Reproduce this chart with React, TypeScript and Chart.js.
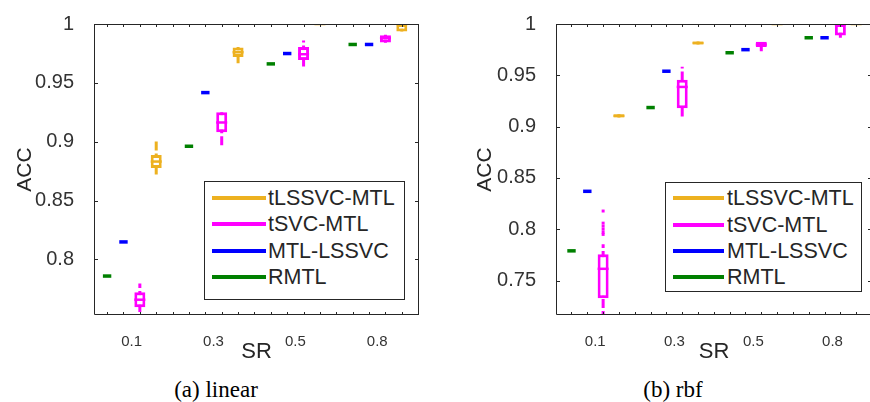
import React, { useEffect, useRef } from 'react';
import { Chart, registerables } from 'chart.js';

Chart.register(...registerables);

// ---------- data ----------
const METHODS = ['tLSSVC-MTL', 'tSVC-MTL', 'MTL-LSSVC', 'RMTL'];
const COLORS = ['#EDB120', '#FF00FF', '#0000FF', '#008000'];
const SR_LABELS = ['0.1', '0.3', '0.5', '0.8'];
const GROUP_STEP = 5; // slots per SR group (4 boxes + gap)

// (a) linear
const LIN_Y_TICKS = [0.8, 0.85, 0.9, 0.95, 1];
const LIN_RMTL = [0.7858, 0.8961, 0.9661, 0.9826];
const LIN_MTL_LSSVC = [0.8148, 0.9417, 0.9749, 0.9826];
const LIN_TSVC_Q1 = [0.7593, 0.908, 0.9693, 0.9842];
const LIN_TSVC_MED = [0.7657, 0.9163, 0.9743, 0.988];
const LIN_TSVC_Q3 = [0.772, 0.9251, 0.9804, 0.9905];
const LIN_TSVC_LO = [0.745, 0.897, 0.9638, 0.984];
const LIN_TSVC_HI = [0.7794, 0.9274, 0.9859, 0.9908];
const LIN_TLSSVC_Q1 = [0.8776, 0.972, 1.0, 0.9937];
const LIN_TLSSVC_MED = [0.8831, 0.976, 1.0, 1.0];
const LIN_TLSSVC_Q3 = [0.8886, 0.98, 1.0, 1.0];
const LIN_TLSSVC_LO = [0.872, 0.9666, 1.0, 0.9937];
const LIN_TLSSVC_HI = [0.9025, 0.9805, 1.0, 1.0];

// (b) rbf
const RBF_Y_TICKS = [0.75, 0.8, 0.85, 0.9, 0.95, 1];
const RBF_RMTL = [0.779, 0.9186, 0.972, 0.9866];
const RBF_MTL_LSSVC = [0.837, 0.954, 0.975, 0.9866];
const RBF_TSVC_Q1 = [0.7327, 0.9179, 0.9776, 0.9888];
const RBF_TSVC_MED = [0.7615, 0.9387, 0.98, 0.9995];
const RBF_TSVC_Q3 = [0.7758, 0.9457, 0.9827, 1.0];
const RBF_TSVC_LO = [0.7, 0.91, 0.9735, 0.9866];
const RBF_TSVC_HI = [0.7854, 0.9584, 0.9827, 1.0];
const RBF_TSVC_OUT_01 = [0.8178, 0.806, 0.803, 0.8, 0.797, 0.795];
const RBF_TLSSVC_Q1 = [0.909, 0.98, 1.0, 1.0];
const RBF_TLSSVC_MED = [0.9105, 0.9815, 1.0, 1.0];
const RBF_TLSSVC_Q3 = [0.912, 0.983, 1.0, 1.0];
const RBF_TLSSVC_LO = [0.909, 0.98, 1.0, 1.0];
const RBF_TLSSVC_HI = [0.912, 0.983, 1.0, 1.0];

const AXIS_COLOR = '#262626';
const TICK_COLOR = '#333333';
const FONT = '"Liberation Sans", Arial, Helvetica, sans-serif';

// slot inside group: RMTL 1, MTL-LSSVC 2, tSVC-MTL 3, tLSSVC-MTL 4
const slotX = (g: number, slot: number) => g * GROUP_STEP + slot;

function pointDataset(values: number[], slot: number, color: string) {
  return {
    type: 'scatter',
    data: values.map((v, g) => ({ x: slotX(g, slot), y: v })),
    pointStyle: 'line',
    pointRadius: 4.2,
    pointHoverRadius: 4.2,
    pointBorderWidth: 3.5,
    pointBorderColor: color,
    borderColor: color,
    order: 0,
    clip: 0,
  };
}

function spreadDatasets(
  q1: number[], med: number[], q3: number[], lo: number[], hi: number[],
  slot: number, color: string, outliers?: { g: number; values: number[] }
) {
  const whisker: any[] = [];
  q1.forEach((_, g) => {
    const x = slotX(g, slot);
    whisker.push({ x, y: lo[g] }, { x, y: hi[g] }, { x, y: null });
  });
  const sets: any[] = [
    {
      type: 'line',
      data: whisker,
      borderColor: color,
      borderWidth: 3,
      borderDash: [9, 3],
      borderCapStyle: 'butt',
      pointRadius: 0,
      pointHoverRadius: 0,
      spanGaps: false,
      fill: false,
      order: 2,
      clip: 0,
    },
    {
      type: 'bar',
      data: q1.map((_, g) => ({ x: slotX(g, slot), y: [q1[g], q3[g]] })),
      backgroundColor: '#ffffff',
      borderColor: color,
      borderWidth: 3,
      borderSkipped: false,
      grouped: false,
      maxBarThickness: 11,
      order: 1,
      clip: 0,
    },
    {
      type: 'scatter',
      data: med.map((v, g) => ({ x: slotX(g, slot), y: v })),
      pointStyle: 'line',
      pointRadius: 5.5,
      pointHoverRadius: 5.5,
      pointBorderWidth: 2.5,
      pointBorderColor: color,
      borderColor: color,
      order: 0,
      clip: 0,
    },
  ];
  if (outliers) {
    sets.push({
      type: 'scatter',
      data: outliers.values.map((v) => ({ x: slotX(outliers.g, slot), y: v })),
      pointStyle: 'rect',
      pointRadius: 2.1,
      pointHoverRadius: 2.1,
      pointBorderWidth: 0,
      pointBackgroundColor: color,
      backgroundColor: color,
      order: 0,
      clip: 0,
    });
  }
  return sets;
}

const framePlugin = {
  id: 'matlabFrame',
  afterDraw(chart: any) {
    const { ctx, chartArea: a, scales } = chart;
    const x = scales.x;
    const y = scales.y;
    ctx.save();
    ctx.strokeStyle = AXIS_COLOR;
    ctx.lineWidth = 1;
    ctx.beginPath();
    ctx.rect(a.left + 0.5, a.top + 0.5, a.right - a.left - 1, a.bottom - a.top - 1);
    ctx.stroke();
    ctx.beginPath();
    for (let v = Math.ceil(x.min); v <= Math.floor(x.max); v++) {
      const px = Math.round(x.getPixelForValue(v)) + 0.5;
      ctx.moveTo(px, a.bottom);
      ctx.lineTo(px, a.bottom - 3);
      ctx.moveTo(px, a.top);
      ctx.lineTo(px, a.top + 3);
    }
    y.ticks.forEach((t: any) => {
      const py = Math.round(y.getPixelForValue(t.value)) + 0.5;
      ctx.moveTo(a.left, py);
      ctx.lineTo(a.left + 4, py);
      ctx.moveTo(a.right, py);
      ctx.lineTo(a.right - 4, py);
    });
    ctx.stroke();
    ctx.restore();
  },
};

interface PanelCfg {
  left: number;
  width: number;
  height: number;
  yAxisWidth: number;
  padTop: number;
  padRight: number;
  xMin: number;
  xMax: number;
  yMin: number;
  yTicks: number[];
  titlePad: number;
  datasets: any[];
}

function BoxPanel({ cfg }: { cfg: PanelCfg }) {
  const ref = useRef<HTMLCanvasElement>(null);
  useEffect(() => {
    if (!ref.current) return;
    const chart = new Chart(ref.current, {
      type: 'bar',
      data: { datasets: cfg.datasets },
      plugins: [framePlugin],
      options: {
        animation: false,
        responsive: false,
        events: [],
        layout: { padding: { top: cfg.padTop, right: cfg.padRight, left: 0, bottom: 0 } },
        plugins: { legend: { display: false }, tooltip: { enabled: false } },
        scales: {
          x: {
            type: 'linear',
            min: cfg.xMin,
            max: cfg.xMax,
            offset: false,
            bounds: 'data',
            grid: { display: false, offset: false },
            border: { display: false },
            afterBuildTicks: (s: any) => {
              s.ticks = SR_LABELS.map((_, g) => ({ value: g * GROUP_STEP + 2.5 }));
            },
            afterFit: (s: any) => {
              s.height = cfg.height - 315;
            },
            ticks: {
              autoSkip: false,
              maxRotation: 0,
              padding: 10,
              color: TICK_COLOR,
              font: { family: FONT, size: 15 },
              callback: (_v: any, i: number) => SR_LABELS[i],
            },
            title: {
              display: true,
              text: 'SR',
              color: AXIS_COLOR,
              font: { family: FONT, size: 22 },
              padding: { top: 0, bottom: 5 },
            },
          },
          y: {
            type: 'linear',
            min: cfg.yMin,
            max: 1,
            beginAtZero: false,
            bounds: 'data',
            grid: { display: false },
            border: { display: false },
            afterBuildTicks: (s: any) => {
              s.ticks = cfg.yTicks.map((v) => ({ value: v }));
            },
            afterFit: (s: any) => {
              s.width = cfg.yAxisWidth;
            },
            ticks: {
              autoSkip: false,
              padding: 12,
              color: TICK_COLOR,
              font: { family: FONT, size: 20 },
              callback: (v: any) => String(Math.round(Number(v) * 100) / 100),
            },
            title: {
              display: true,
              text: 'ACC',
              color: AXIS_COLOR,
              font: { family: FONT, size: 21 },
              padding: { top: cfg.titlePad, bottom: 0 },
            },
          },
        },
      } as any,
    } as any);
    return () => chart.destroy();
  }, []);
  return (
    <canvas
      ref={ref}
      width={cfg.width}
      height={cfg.height}
      style={{ position: 'absolute', left: cfg.left, top: 0, width: cfg.width, height: cfg.height }}
    />
  );
}

function Legend({ left, top, width, height, firstRow, rowStep, lineLeft, lineLen, textLeft }: any) {
  return (
    <div
      style={{
        position: 'absolute', left, top, width, height, boxSizing: 'border-box',
        border: `1px solid ${AXIS_COLOR}`, background: '#fff',
      }}
    >
      {METHODS.map((m, i) => (
        <React.Fragment key={m}>
          <div
            style={{
              position: 'absolute', left: lineLeft, top: firstRow + i * rowStep - 2,
              width: lineLen, height: 4, background: COLORS[i],
            }}
          />
          <div
            style={{
              position: 'absolute', left: textLeft, top: firstRow + i * rowStep - 12,
              height: 24, lineHeight: '24px', fontFamily: FONT, fontSize: 21.5,
              color: AXIS_COLOR, whiteSpace: 'nowrap',
            }}
          >
            {m}
          </div>
        </React.Fragment>
      ))}
    </div>
  );
}

const LINEAR_DATASETS = [
  pointDataset(LIN_RMTL, 1, COLORS[3]),
  pointDataset(LIN_MTL_LSSVC, 2, COLORS[2]),
  ...spreadDatasets(LIN_TSVC_Q1, LIN_TSVC_MED, LIN_TSVC_Q3, LIN_TSVC_LO, LIN_TSVC_HI, 3, COLORS[1]),
  ...spreadDatasets(LIN_TLSSVC_Q1, LIN_TLSSVC_MED, LIN_TLSSVC_Q3, LIN_TLSSVC_LO, LIN_TLSSVC_HI, 4, COLORS[0]),
];

const RBF_DATASETS = [
  pointDataset(RBF_RMTL, 1, COLORS[3]),
  pointDataset(RBF_MTL_LSSVC, 2, COLORS[2]),
  ...spreadDatasets(RBF_TSVC_Q1, RBF_TSVC_MED, RBF_TSVC_Q3, RBF_TSVC_LO, RBF_TSVC_HI, 3, COLORS[1], {
    g: 0,
    values: RBF_TSVC_OUT_01,
  }),
  ...spreadDatasets(RBF_TLSSVC_Q1, RBF_TLSSVC_MED, RBF_TLSSVC_Q3, RBF_TLSSVC_LO, RBF_TLSSVC_HI, 4, COLORS[0]),
];

const LINEAR_CFG: PanelCfg = {
  left: 0, width: 435, height: 370, yAxisWidth: 94, padTop: 16, padRight: 16,
  xMin: 0.2, xMax: 20.05, yMin: 0.7527, yTicks: LIN_Y_TICKS, titlePad: 13,
  datasets: LINEAR_DATASETS,
};

const RBF_CFG: PanelCfg = {
  left: 440, width: 440, height: 370, yAxisWidth: 116, padTop: 19, padRight: 3,
  xMin: 0.02, xMax: 20, yMin: 0.7165, yTicks: RBF_Y_TICKS, titlePad: 33,
  datasets: RBF_DATASETS,
};

const captionStyle: React.CSSProperties = {
  position: 'absolute', top: 377, width: 200, height: 26, lineHeight: '26px',
  textAlign: 'center', fontFamily: '"Liberation Serif", "Times New Roman", serif',
  fontSize: 23, color: '#000',
};

export default function App() {
  return (
    <div
      style={{
        position: 'fixed', left: 0, top: 0, width: 870, height: 402,
        overflow: 'hidden', background: '#fff',
      }}
    >
      <BoxPanel cfg={LINEAR_CFG} />
      <BoxPanel cfg={RBF_CFG} />
      <Legend left={204} top={181} width={201} height={119} firstRow={15.7} rowStep={26.4}
        lineLeft={7} lineLen={54} textLeft={63} />
      <Legend left={665} top={182} width={197} height={110} firstRow={15.3} rowStep={26.3}
        lineLeft={7} lineLen={51} textLeft={61} />
      <div style={{ ...captionStyle, left: 116 }}>(a) linear</div>
      <div style={{ ...captionStyle, left: 573 }}>(b) rbf</div>
    </div>
  );
}
